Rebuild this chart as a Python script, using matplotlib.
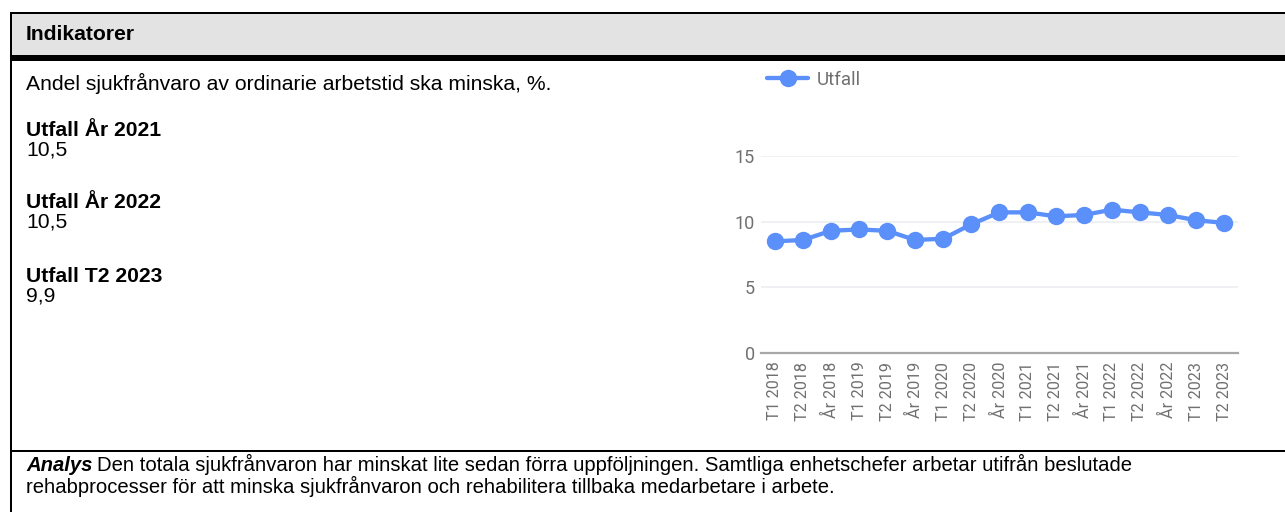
import numpy as np
import matplotlib
matplotlib.use('Agg')
import matplotlib.pyplot as plt
from matplotlib.patches import Rectangle

# data ---------------------------------------------------------------
periods = ['T1 2018', 'T2 2018', 'År 2018', 'T1 2019', 'T2 2019', 'År 2019',
           'T1 2020', 'T2 2020', 'År 2020', 'T1 2021', 'T2 2021', 'År 2021',
           'T1 2022', 'T2 2022', 'År 2022', 'T1 2023', 'T2 2023']
utfall = [8.5, 8.6, 9.3, 9.4, 9.3, 8.6, 8.7, 9.8, 10.7, 10.7, 10.4, 10.5,
          10.9, 10.7, 10.5, 10.1, 9.9]
y_ticks = [0, 5, 10, 15]

header = 'Indikatorer'
indicator = 'Andel sjukfrånvaro av ordinarie arbetstid ska minska, %.'
kpi_labels = ['Utfall År 2021', 'Utfall År 2022', 'Utfall T2 2023']
kpi_values = ['10,5', '10,5', '9,9']
analys_head = 'Analys'
analys_lines = ['Den totala sjukfrånvaron har minskat lite sedan förra uppföljningen. Samtliga enhetschefer arbetar utifrån beslutade',
                'rehabprocesser för att minska sjukfrånvaron och rehabilitera tillbaka medarbetare i arbete.']

W, H = 1285, 512
fig = plt.figure(figsize=(W / 100, H / 100), dpi=100)
fig.patch.set_facecolor('white')

def fx(px):
    return px / W

def fy(py):
    return 1 - py / H

# table frame ---------------------------------------------------------
fig.patches.append(Rectangle((fx(12), fy(55)), fx(W - 12), 41 / H, transform=fig.transFigure,
                             facecolor='#e3e3e3', edgecolor='none'))
fig.patches.append(Rectangle((fx(10), fy(14)), fx(W - 10), 2 / H, transform=fig.transFigure,
                             facecolor='black', edgecolor='none'))
fig.patches.append(Rectangle((fx(10), fy(61)), fx(W - 10), 6 / H, transform=fig.transFigure,
                             facecolor='black', edgecolor='none'))
fig.patches.append(Rectangle((fx(10), fy(452)), fx(W - 10), 2.5 / H, transform=fig.transFigure,
                             facecolor='black', edgecolor='none'))
fig.patches.append(Rectangle((fx(10), 0), fx(2), fy(12), transform=fig.transFigure,
                             facecolor='black', edgecolor='none'))

# left column texts ---------------------------------------------------
txt = dict(family='Liberation Sans', fontsize=15.2, color='black', ha='left')
fig.text(fx(26), fy(34), header, fontweight='bold', va='center', **txt)
fig.text(fx(26), fy(83), indicator, va='center', **txt)
for i, (lab, val) in enumerate(zip(kpi_labels, kpi_values)):
    y0 = 130 + i * 73
    fig.text(fx(26), fy(y0), lab, fontweight='bold', va='center', **txt)
    fig.text(fx(26), fy(y0 + 19.5), val, va='center', **txt)

# analysis row, a bit smaller text
txt_a = dict(txt, fontsize=14.6)
head = fig.text(fx(26), fy(471), analys_head, fontweight='bold', style='italic', va='baseline', **txt_a)
fig.text(fx(26), fy(493), analys_lines[1], va='baseline', **txt_a)
fig.canvas.draw()
bb = head.get_window_extent()
fig.text((bb.x1 + 5) / W, fy(471), analys_lines[0], va='baseline', **txt_a)

# chart ---------------------------------------------------------------
x0, x1 = 760.7, 1238.3
yb, yt = 353.3, 155.7
ax = fig.add_axes([fx(x0), 1 - yb / H, fx(x1 - x0), (yb - yt) / H])
ax.set_facecolor('none')
xs = np.arange(len(periods))
line, = ax.plot(xs, utfall, color='#5b8ff9', lw=3.1, marker='o', ms=11.5,
                solid_capstyle='round', clip_on=False, zorder=3, label='Utfall')
ax.set_xlim(-0.5, len(periods) - 0.5)
ax.set_ylim(0, 15)
ax.set_yticks(y_ticks)
ax.set_xticks(xs)
ax.set_xticklabels(periods, rotation=90, family='Roboto', fontsize=11.6, color='#707070')
for t in ax.get_yticklabels():
    t.set_family('Roboto')
    t.set_fontsize(13)
    t.set_color('#707070')
ax.tick_params(axis='both', length=0)
ax.tick_params(axis='x', pad=6)
ax.tick_params(axis='y', pad=4)
ax.grid(axis='y', color='#ebeef1', lw=1.2)
ax.set_axisbelow(True)
for s in ['top', 'right', 'left']:
    ax.spines[s].set_visible(False)
ax.spines['bottom'].set_color('#a8a8a8')
ax.spines['bottom'].set_linewidth(1.6)

leg = fig.legend(handles=[line], loc='center left', bbox_to_anchor=(fx(767), fy(80)),
                 frameon=False, prop={'family': 'Roboto', 'size': 13.5}, handlelength=2.2,
                 handletextpad=0.45, borderpad=0, borderaxespad=0)
for t in leg.get_texts():
    t.set_color('#707070')

fig.savefig('out.png', dpi=100)
